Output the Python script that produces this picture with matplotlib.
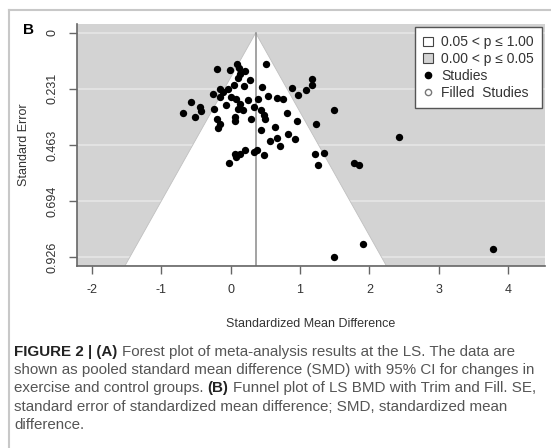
import matplotlib
matplotlib.use('Agg')
import matplotlib.pyplot as plt
from matplotlib.patches import Patch, Polygon
from matplotlib.lines import Line2D

plt.rcParams['font.family'] = ['Liberation Sans', 'DejaVu Sans']

# Study effect sizes (SMD) and their standard errors
smd = [-0.193, -0.006, 0.095, 0.115, 0.211, 0.130, 0.105, 0.274, 0.192, 0.043,
       -0.039, -0.111, -0.159, -0.255, -0.159, 0.009, 0.081, -0.063, 0.130, 0.250,
       0.336, 0.105, 0.177, -0.568, -0.439, -0.430, -0.688, -0.520, -0.245, -0.193,
       -0.159, -0.183, 0.058, 0.058, 0.336, 0.202, 0.130, 0.058, 0.081, -0.029,
       0.509, 0.447, 0.398, 0.534, 0.664, 0.759, 0.880, 0.975, 1.082, 1.178,
       1.178, 1.490, 0.437, 0.485, 0.495, 0.808, 0.952, 1.227, 0.639, 0.437,
       0.831, 0.928, 0.664, 0.567, 0.711, 0.375, 0.485, 1.216, 1.350, 1.264,
       0.293, 1.778, 1.855, 2.430, 1.905, 1.489, 3.786]
se = [0.150, 0.154, 0.127, 0.145, 0.158, 0.168, 0.186, 0.196, 0.219, 0.216,
      0.230, 0.244, 0.230, 0.251, 0.265, 0.265, 0.271, 0.296, 0.292, 0.278,
      0.306, 0.313, 0.320, 0.285, 0.306, 0.322, 0.329, 0.347, 0.315, 0.357,
      0.375, 0.393, 0.347, 0.364, 0.492, 0.485, 0.499, 0.499, 0.513, 0.537,
      0.127, 0.223, 0.274, 0.260, 0.269, 0.274, 0.227, 0.255, 0.237, 0.216,
      0.189, 0.317, 0.317, 0.337, 0.357, 0.329, 0.362, 0.375, 0.389, 0.402,
      0.416, 0.437, 0.434, 0.448, 0.468, 0.485, 0.503, 0.500, 0.496, 0.547,
      0.354, 0.538, 0.545, 0.428, 0.874, 0.926, 0.893]

pooled_smd = 0.36
y_ticks = [0, 0.231, 0.463, 0.694, 0.926]
y_tick_labels = ['0', '0.231', '0.463', '0.694', '0.926']
x_ticks = [-2, -1, 0, 1, 2, 3, 4]
legend_labels = ['0.05 < p \u2264 1.00', '0.00 < p \u2264 0.05', 'Studies', 'Filled  Studies']

W, H = 551, 448
fig = plt.figure(figsize=(W / 100, H / 100), dpi=100)

# panel frame
fig.add_artist(Line2D([9 / W, 1], [1 - 10 / H, 1 - 10 / H], color='#c8c8c8', lw=1.5))
fig.add_artist(Line2D([9 / W, 9 / W], [1 - 10 / H, 0], color='#c8c8c8', lw=1.5))

ax = fig.add_axes([77 / W, 1 - 266 / H, (545 - 77) / W, (266 - 24) / H])
xlim = (-2.218, 4.535)
ylim_bottom, ylim_top = 0.963, -0.037
ax.set_xlim(*xlim)
ax.set_ylim(ylim_bottom, ylim_top)
ax.set_facecolor('#d3d3d3')

for t in y_ticks:
    ax.axhline(t, color='#e6e6e6', lw=1.2, zorder=0.5)

# non-significant region (white funnel)
half = 1.96 * ylim_bottom
funnel = Polygon([[pooled_smd - half, ylim_bottom], [pooled_smd, 0],
                  [pooled_smd + half, ylim_bottom]], closed=True,
                 facecolor='white', edgecolor='#c0c0c0', lw=0.6, zorder=1)
ax.add_patch(funnel)
ax.plot([pooled_smd, pooled_smd], [0, ylim_bottom], color='#8a8a8a', lw=1.1, zorder=2)

ax.scatter(smd, se, s=28, color='black', zorder=3, linewidths=0)

for s in ['top', 'right']:
    ax.spines[s].set_visible(False)
for s in ['left', 'bottom']:
    ax.spines[s].set_color('#666666')
    ax.spines[s].set_linewidth(1.2)

ax.set_xticks(x_ticks)
ax.set_xticklabels([str(v) for v in x_ticks])
ax.set_yticks(y_ticks)
ax.set_yticklabels(y_tick_labels, rotation=90, va='center')
ax.tick_params(direction='out', length=6, width=1, color='#666666',
               labelcolor='#333333', labelsize=9, pad=7)

ax.set_xlabel('Standardized Mean Difference', fontsize=9, color='#333333')
ax.set_ylabel('Standard Error', fontsize=9, color='#333333')
ax.xaxis.set_label_coords(0.5, (266 - 318) / 242)
ax.yaxis.set_label_coords((30 - 77) / 468, 0.5)

handles = [Patch(facecolor='white', edgecolor='#444444', lw=0.8),
           Patch(facecolor='#d3d3d3', edgecolor='#444444', lw=0.8),
           Line2D([], [], ls='none', marker='o', color='black', markersize=4.5),
           Line2D([], [], ls='none', marker='o', markerfacecolor='white',
                  markeredgecolor='#777777', markersize=4.5)]
leg = ax.legend(handles, legend_labels, loc='upper right',
                bbox_to_anchor=(542 / W, 1 - 27 / H), bbox_transform=fig.transFigure,
                borderaxespad=0, fancybox=False, fontsize=10, handlelength=0.7,
                handleheight=0.7, handletextpad=0.6, labelspacing=0.2,
                borderpad=0.6, framealpha=1)
leg.get_frame().set_edgecolor('#555555')
leg.get_frame().set_linewidth(1.0)
for t in leg.get_texts():
    t.set_color('#333333')

fig.text(28 / W, 1 - 30 / H, 'B', fontsize=11, fontweight='bold', ha='center', va='center')

# caption with mixed bold / regular runs
caption = [
    [('FIGURE 2 | (A)', True), ('Forest plot of meta-analysis results at the LS. The data are', False)],
    [('shown as pooled standard mean difference (SMD) with 95% CI for changes in', False)],
    [('exercise and control groups.', False), ('(B)', True), ('Funnel plot of LS BMD with Trim and Fill. SE,', False)],
    [('standard error of standardized mean difference; SMD, standardized mean', False)],
    [('difference.', False)],
]
cap_size = 10.9
renderer = fig.canvas.get_renderer()


def width_px(txt, bold):
    t = fig.text(0, 0, txt, fontsize=cap_size, fontweight='bold' if bold else 'normal')
    w = t.get_window_extent(renderer).width
    t.remove()
    return w


space_w = width_px('a a', False) - width_px('aa', False)
y0 = 352
for i, runs in enumerate(caption):
    x = 14
    y = y0 + i * 18.2
    for j, (txt, bold) in enumerate(runs):
        if j > 0:
            x += space_w
        t = fig.text(x / W, 1 - y / H, txt, fontsize=cap_size,
                     fontweight='bold' if bold else 'normal',
                     color='#222222' if bold else '#555555', ha='left', va='center')
        x = t.get_window_extent(renderer).x1

fig.savefig('out.png', dpi=100)
